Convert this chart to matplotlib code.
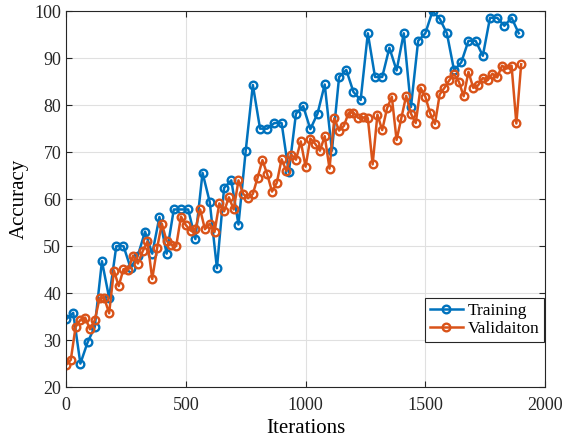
import numpy as np
import matplotlib
matplotlib.use('Agg')
import matplotlib.pyplot as plt

# training accuracy, logged every 30 iterations
train_iter = np.arange(0, 1891, 30)
train_acc = [34.4, 35.8, 25.0, 29.5, 32.8, 46.8, 39.0, 50.0, 50.0, 45.3,
             48.0, 53.1, 48.4, 56.2, 48.4, 57.8, 57.8, 57.8, 51.5, 65.6,
             59.4, 45.3, 62.4, 64.0, 54.6, 70.2, 84.3, 75.0, 75.0, 76.2,
             76.2, 65.7, 78.2, 79.8, 74.9, 78.2, 84.4, 70.3, 86.0, 87.5,
             82.8, 81.1, 95.3, 86.0, 86.0, 92.2, 87.4, 95.3, 79.6, 93.7,
             95.3, 100.0, 98.4, 95.3, 87.4, 89.1, 93.7, 93.7, 90.5, 98.6,
             98.6, 96.9, 98.6, 95.3]

# validation accuracy, logged every 20 iterations
val_iter = np.arange(0, 1901, 20)
val_acc = [24.7, 25.8, 32.8, 34.3, 34.8, 32.3, 34.2, 38.9, 38.9, 35.7,
           44.8, 41.5, 45.1, 45.0, 48.0, 46.3, 48.9, 51.0, 43.0, 49.5,
           54.8, 51.1, 50.3, 50.0, 56.3, 54.5, 53.3, 53.6, 57.8, 53.6,
           54.8, 53.0, 59.1, 57.4, 60.4, 57.8, 64.0, 61.1, 60.2, 61.1,
           64.6, 68.3, 65.3, 61.6, 63.5, 68.5, 66.0, 69.5, 68.4, 72.3,
           66.9, 72.9, 71.8, 70.3, 73.4, 66.5, 77.2, 74.6, 75.6, 78.4,
           78.4, 77.3, 77.4, 77.2, 67.4, 78.0, 74.7, 79.3, 81.8, 72.6,
           77.3, 82.0, 78.2, 76.2, 83.7, 81.8, 78.3, 76.0, 82.3, 83.7,
           85.3, 86.6, 85.0, 81.9, 87.1, 83.7, 84.2, 85.8, 85.3, 86.7,
           85.9, 88.4, 87.8, 88.4, 76.1, 88.7]

plt.rcParams['font.family'] = ['Liberation Serif', 'DejaVu Serif']

fig = plt.figure(figsize=(5.69, 4.48), dpi=100)
ax = fig.add_axes([0.116, 0.136, 0.842, 0.839])

ax.plot(train_iter, train_acc, '-o', color='#0072BD', lw=1.8, ms=5.5,
        mew=1.7, mfc='none', label='Training')
ax.plot(val_iter, val_acc, '-o', color='#D95319', lw=1.8, ms=5.5,
        mew=1.7, mfc='none', label='Validaiton')

ax.set_xlim(0, 2000)
ax.set_ylim(20, 100)
ax.set_xticks(np.arange(0, 2001, 500))
ax.set_yticks(np.arange(20, 101, 10))
ax.grid(True, color='#e0e0e0', lw=0.8)
ax.set_axisbelow(True)
ax.tick_params(direction='in', labelsize=13, colors='#262626', length=4,
               top=True, right=True)
ax.tick_params(axis='x', pad=7)
for s in ax.spines.values():
    s.set_color('#262626')
    s.set_linewidth(0.8)

ax.set_xlabel('Iterations', fontsize=15, labelpad=4)
ax.set_ylabel('Accuracy', fontsize=15, labelpad=4)

leg = ax.legend(loc='lower right', fontsize=12.5, fancybox=False,
                framealpha=1, edgecolor='#262626', handlelength=1.9,
                borderpad=0.25, labelspacing=0.15, handletextpad=0.3,
                borderaxespad=0, bbox_to_anchor=(0.956, 0.237),
                bbox_transform=fig.transFigure)
leg.get_frame().set_linewidth(0.8)

fig.savefig('out.png', dpi=100)
